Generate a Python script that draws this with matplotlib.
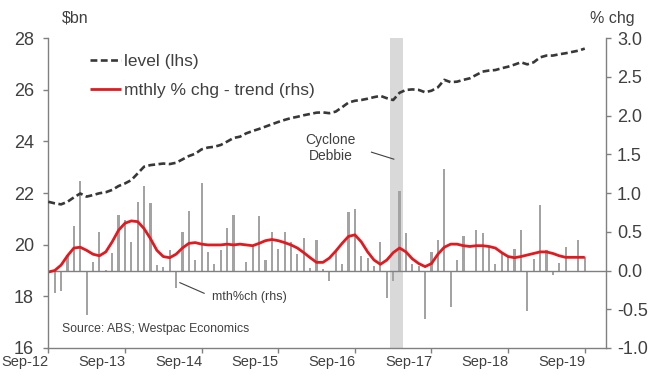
import matplotlib
matplotlib.use('Agg')
import matplotlib.pyplot as plt
import numpy as np
import pandas as pd
from matplotlib.transforms import ScaledTranslation

plt.rcParams['font.family'] = ['Liberation Sans', 'DejaVu Sans']

# ---------------- data ----------------
start_month = '2012-09-01'
end_month = '2019-09-01'

level_bn = [21.66, 21.60, 21.56, 21.66, 21.83, 21.98, 21.86, 21.92, 21.99, 22.03,
            22.12, 22.27, 22.37, 22.50, 22.76, 23.02, 23.08, 23.11, 23.14, 23.12,
            23.17, 23.30, 23.43, 23.52, 23.69, 23.76, 23.79, 23.86, 23.99, 24.13,
            24.18, 24.31, 24.40, 24.48, 24.57, 24.66, 24.75, 24.83, 24.90, 24.95,
            25.01, 25.06, 25.11, 25.12, 25.09, 25.15, 25.32, 25.50, 25.57, 25.60,
            25.65, 25.71, 25.76, 25.67, 25.60, 25.88, 25.99, 26.01, 25.99, 25.90,
            25.96, 26.09, 26.38, 26.29, 26.31, 26.38, 26.44, 26.57, 26.70, 26.74,
            26.76, 26.83, 26.89, 26.97, 27.06, 26.98, 27.06, 27.25, 27.32, 27.32,
            27.37, 27.41, 27.46, 27.51, 27.59]

trend_pct = [-0.02, 0.00, 0.07, 0.19, 0.29, 0.30, 0.26, 0.21, 0.19, 0.24,
             0.37, 0.52, 0.61, 0.64, 0.63, 0.54, 0.41, 0.26, 0.18, 0.165,
             0.21, 0.29, 0.35, 0.36, 0.34, 0.33, 0.33, 0.33, 0.34, 0.33,
             0.34, 0.33, 0.32, 0.35, 0.385, 0.40, 0.385, 0.36, 0.33, 0.29,
             0.23, 0.165, 0.105, 0.105, 0.16, 0.25, 0.35, 0.44, 0.46, 0.37,
             0.24, 0.135, 0.08, 0.135, 0.23, 0.29, 0.24, 0.15, 0.09, 0.05,
             0.09, 0.21, 0.30, 0.34, 0.34, 0.32, 0.31, 0.32, 0.32, 0.31,
             0.29, 0.23, 0.18, 0.165, 0.18, 0.20, 0.22, 0.24, 0.24, 0.22,
             0.19, 0.17, 0.17, 0.17, 0.17]

mth_pct = [0.40, -0.29, -0.27, 0.20, 0.57, 1.16, -0.58, 0.11, 0.50, 0.01,
           0.23, 0.72, 0.65, 0.37, 0.88, 1.09, 0.87, 0.07, 0.04, 0.26,
           -0.22, 0.50, 0.77, 0.14, 1.13, 0.24, 0.09, 0.26, 0.55, 0.72,
           -0.02, 0.11, 0.31, 0.70, 0.14, 0.50, 0.28, 0.50, 0.37, 0.21,
           0.42, 0.03, 0.40, 0.02, -0.13, 0.26, 0.08, 0.76, 0.80, 0.19,
           0.16, 0.06, 0.37, -0.35, -0.14, 1.03, 0.49, 0.09, 0.06, -0.62,
           0.24, 0.39, 1.31, -0.47, 0.13, 0.44, -0.02, 0.52, 0.49, 0.30,
           0.08, 0.23, 0.19, 0.28, 0.52, -0.52, 0.15, 0.85, 0.27, -0.06,
           0.10, 0.30, 0.00, 0.40, 0.17]

event_months = ['2017-03-01', '2017-04-01']   # Cyclone Debbie

# ---------------- figure ----------------
months = pd.date_range(start_month, end_month, freq='MS')
x = np.arange(len(months))
tick_idx = x[::12]
tick_labels = [m.strftime('%b-%y') for m in months[::12]]

W, H = 654, 378
fig = plt.figure(figsize=(W / 100, H / 100), dpi=100)
L, R, B, T = 48, 606, 348, 38
ax = fig.add_axes([L / W, (H - B) / H, (R - L) / W, (B - T) / H])
ax2 = ax.twinx()
ax.set_zorder(ax2.get_zorder() + 1)
ax.patch.set_visible(False)

txt = '#404040'
spc = '#808080'

# rhs: shading, bars, zero line, trend
e0 = list(months).index(pd.Timestamp(event_months[0]))
e1 = list(months).index(pd.Timestamp(event_months[1]))
ax2.axvspan(e0 - 0.55, e1 + 0.6, color='#d9d9d9', lw=0, zorder=0)
ax2.bar(x, mth_pct, width=0.34, color='#a3a3a3', zorder=2)
ax2.axhline(0, color=spc, lw=1.0, zorder=3)
red, = ax2.plot(x, trend_pct, color='#e3191f', lw=2.0, zorder=4,
                solid_capstyle='butt')

# lhs: level
lev, = ax.plot(x, level_bn, color='#383838', lw=1.9,
               linestyle=(0, (2.6, 1.3)), zorder=5)

ax.set_xlim(-0.05, (R - L) / 6.39)
ax.set_ylim(16, 28)
ax2.set_ylim(-1, 3)
ax.set_yticks(np.arange(16, 29, 2))
ax2.set_yticks(np.arange(-1, 3.01, 0.5))
ax2.set_yticklabels([f'{v:.1f}' for v in np.arange(-1, 3.01, 0.5)])
ax.set_xticks(tick_idx)
ax.set_xticklabels(tick_labels)

for a in (ax, ax2):
    for s in a.spines.values():
        s.set_color(spc)
        s.set_linewidth(1.0)
    a.spines['top'].set_visible(False)
ax.spines['right'].set_visible(False)
ax2.spines['left'].set_visible(False)
ax2.spines['bottom'].set_visible(False)

ax.tick_params(axis='y', length=3.5, width=1, color=spc, labelsize=13,
               labelcolor=txt, pad=6.5)
ax2.tick_params(axis='y', length=3.5, width=1, color=spc, labelsize=13,
                labelcolor=txt, pad=4.5)
ax.tick_params(axis='x', length=3.5, width=1, color=spc, labelsize=10.5,
               labelcolor=txt, pad=0)
off = ScaledTranslation(-23 / 100, -2 / 100, fig.dpi_scale_trans)
for lab in ax.get_xticklabels():
    lab.set_transform(lab.get_transform() + off)

# axis unit titles
fig.text(75 / W, 1 - 18 / H, '$bn', ha='center', va='center', fontsize=11.5,
         color=txt)
fig.text(612 / W, 1 - 18 / H, '% chg', ha='center', va='center',
         fontsize=11.5, color=txt)

# legend
ax.legend([lev, red], ['level (lhs)', 'mthly % chg - trend (rhs)'],
          loc='upper left', bbox_to_anchor=(0.0756, 0.9495), frameon=False,
          fontsize=12.5, handlelength=1.75, handletextpad=0.2,
          labelspacing=0.8, borderpad=0, borderaxespad=0, labelcolor=txt)

# annotations
ax.text(44.2, 23.74, 'Cyclone\nDebbie', ha='center', va='center',
        fontsize=10, color=txt, linespacing=1.2)
ax.plot([50.6, 54.1], [23.58, 23.31], color=txt, lw=0.8)
ax2.text(25.6, -0.34, 'mth%ch (rhs)', ha='left', va='center', fontsize=9,
         color=txt)
ax2.plot([20.6, 24.4], [-0.157, -0.294], color=txt, lw=0.8)
ax.text(2.1, 16.74, 'Source: ABS; Westpac Economics', ha='left',
        va='center', fontsize=8.8, color=txt)

fig.savefig('out.png', dpi=100)
